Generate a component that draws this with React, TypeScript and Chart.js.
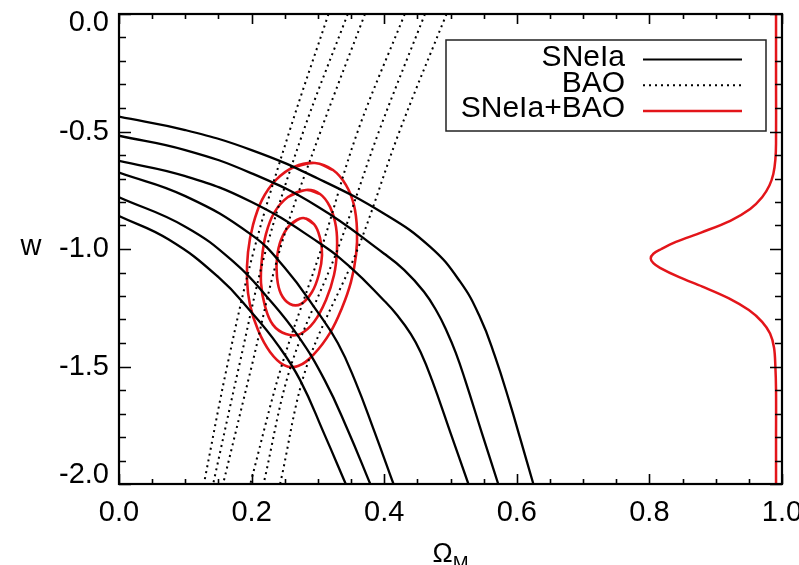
import React, { useEffect, useRef } from "react";
import { Chart, registerables } from "chart.js";

Chart.register(...registerables);

const FONT = "'Liberation Sans', Arial, Helvetica, sans-serif";

// Axis ranges and tick steps
const X_RANGE = [0, 1];
const Y_RANGE = [-2, 0];
const X_LABEL_STEP = 0.2;
const Y_LABEL_STEP = 0.5;
const X_MINOR_STEP = 0.05;
const Y_MINOR_STEP = 0.1;

// SNeIa confidence contours: [Omega_M, w]
const SN_1 = [[0, -0.437], [0.1, -0.494], [0.2, -0.579], [0.3, -0.7], [0.4, -0.85], [0.469, -0.99], [0.514, -1.137], [0.5445, -1.29], [0.567, -1.456], [0.59, -1.66], [0.605, -1.805], [0.625, -2.0]];
const SN_2 = [[0, -0.518], [0.1, -0.579], [0.2, -0.678], [0.3, -0.82], [0.4, -1.02], [0.43, -1.089], [0.46, -1.182], [0.48, -1.269], [0.494, -1.348], [0.508, -1.442], [0.522, -1.557], [0.547, -1.78], [0.572, -2.0]];
const SN_3 = [[0, -0.625], [0.1, -0.69], [0.2, -0.8], [0.3, -0.97], [0.35, -1.08], [0.4, -1.22], [0.42, -1.283], [0.44, -1.361], [0.455, -1.439], [0.472, -1.557], [0.5, -1.782], [0.527, -2.0]];
const SN_4 = [[0, -0.675], [0.1, -0.775], [0.2, -0.94], [0.25, -1.08], [0.3, -1.27], [0.33, -1.4], [0.356, -1.56], [0.385, -1.775], [0.414, -2.0]];
const SN_5 = [[0, -0.78], [0.1, -0.905], [0.175, -1.06], [0.225, -1.21], [0.27, -1.37], [0.31, -1.557], [0.345, -1.77], [0.379, -2.0]];
const SN_6 = [[0, -0.86], [0.075, -0.96], [0.15, -1.12], [0.2, -1.27], [0.24, -1.41], [0.273, -1.557], [0.31, -1.79], [0.342, -2.0]];

// BAO confidence contours: [Omega_M, w]
const BAO_1 = [[0.316, 0], [0.257, -0.5], [0.204, -1.0], [0.163, -1.5], [0.128, -2.0]];
const BAO_2 = [[0.345, 0], [0.278, -0.5], [0.222, -1.0], [0.181, -1.5], [0.142, -2.0]];
const BAO_3 = [[0.371, 0], [0.304, -0.5], [0.243, -1.0], [0.2, -1.5], [0.157, -2.0]];
const BAO_4 = [[0.431, 0], [0.36, -0.5], [0.305, -1.0], [0.245, -1.5], [0.198, -2.0]];
const BAO_5 = [[0.4615, 0], [0.392, -0.5], [0.33, -1.0], [0.259, -1.5], [0.218, -2.0]];
const BAO_6 = [[0.494, 0], [0.423, -0.5], [0.36, -1.0], [0.283, -1.5], [0.243, -2.0]];

// SNeIa+BAO joint contours (closed loops): [Omega_M, w]
const JOINT_3SIG = [[0.2956, -0.634], [0.3228, -0.664], [0.3424, -0.728], [0.3544, -0.813], [0.359, -0.919], [0.3575, -1.026], [0.3499, -1.14], [0.3363, -1.251], [0.3183, -1.357], [0.2941, -1.447], [0.27, -1.498], [0.2489, -1.494], [0.2278, -1.438], [0.2097, -1.345], [0.1976, -1.238], [0.1931, -1.132], [0.1946, -1.013], [0.2021, -0.898], [0.2157, -0.791], [0.2368, -0.706], [0.264, -0.651]];
const JOINT_2SIG = [[0.2821, -0.749], [0.3032, -0.766], [0.3183, -0.821], [0.3273, -0.906], [0.3288, -1.004], [0.3243, -1.111], [0.3122, -1.217], [0.2941, -1.311], [0.273, -1.362], [0.2519, -1.362], [0.2323, -1.323], [0.2202, -1.243], [0.2142, -1.145], [0.2157, -1.038], [0.2217, -0.936], [0.2338, -0.847], [0.2549, -0.779]];
const JOINT_1SIG = [[0.2775, -0.868], [0.2941, -0.894], [0.3032, -0.953], [0.3062, -1.026], [0.3017, -1.106], [0.2911, -1.183], [0.2745, -1.234], [0.2579, -1.234], [0.2443, -1.191], [0.2383, -1.119], [0.2383, -1.038], [0.2443, -0.962], [0.2579, -0.898]];

// Marginalised w likelihood drawn along the right edge: [x, w]
const W_PDF = [[0.991, 0], [0.991, -0.3], [0.991, -0.55], [0.99, -0.62], [0.987, -0.68], [0.981, -0.73], [0.97, -0.78], [0.952, -0.83], [0.922, -0.88], [0.878, -0.93], [0.84, -0.97], [0.818, -1.0], [0.806, -1.02], [0.802, -1.04], [0.806, -1.06], [0.816, -1.08], [0.845, -1.12], [0.88, -1.16], [0.92, -1.21], [0.95, -1.26], [0.97, -1.31], [0.982, -1.36], [0.988, -1.42], [0.99, -1.5], [0.991, -1.6], [0.991, -1.8], [0.991, -2.0]];

// Legend and titles
const LEGEND_LABELS = ["SNeIa", "BAO", "SNeIa+BAO"];
const X_TITLE = "Ω";
const X_TITLE_SUB = "M";
const Y_TITLE = "w";

const BLACK = "#000000";
const RED = "#e3151a";

const toPts = (arr: number[][]) => arr.map(([x, y]) => ({ x, y }));
// closed loop: wrap around so the joint is smoothed too
const loopPts = (arr: number[][]) => {
  const n = arr.length;
  return toPts([arr[n - 1], ...arr, arr[0], arr[1]]);
};

const framePlugin = {
  id: "frameTicks",
  afterDatasetsDraw(chart: any) {
    const { ctx, chartArea: a, scales } = chart;
    const xs = scales.x;
    const ys = scales.y;
    ctx.save();
    ctx.strokeStyle = BLACK;
    ctx.lineWidth = 1.6;
    ctx.beginPath();
    const nx = Math.round((X_RANGE[1] - X_RANGE[0]) / X_MINOR_STEP);
    const xMajorEvery = Math.round(X_LABEL_STEP / X_MINOR_STEP);
    for (let i = 0; i <= nx; i++) {
      const px = Math.round(xs.getPixelForValue(X_RANGE[0] + i * X_MINOR_STEP)) + 0.5;
      const len = i % xMajorEvery === 0 ? 10 : 5;
      ctx.moveTo(px, a.bottom);
      ctx.lineTo(px, a.bottom - len);
      ctx.moveTo(px, a.top);
      ctx.lineTo(px, a.top + len);
    }
    const ny = Math.round((Y_RANGE[1] - Y_RANGE[0]) / Y_MINOR_STEP);
    const yMajorEvery = Math.round(Y_LABEL_STEP / Y_MINOR_STEP);
    for (let i = 0; i <= ny; i++) {
      const py = Math.round(ys.getPixelForValue(Y_RANGE[0] + i * Y_MINOR_STEP)) + 0.5;
      const len = i % yMajorEvery === 0 ? 12 : 7;
      ctx.moveTo(a.left, py);
      ctx.lineTo(a.left + len, py);
      ctx.moveTo(a.right, py);
      ctx.lineTo(a.right - len, py);
    }
    ctx.stroke();
    ctx.lineWidth = 2.2;
    ctx.strokeRect(a.left, a.top, a.right - a.left, a.bottom - a.top);
    ctx.restore();
  },
  afterDraw(chart: any) {
    const { ctx, chartArea: a } = chart;
    ctx.save();
    // legend box
    const bx = a.right - 336;
    const by = a.top + 26;
    const bw = 320;
    const bh = 91;
    ctx.strokeStyle = "#222";
    ctx.lineWidth = 1.5;
    ctx.strokeRect(bx, by, bw, bh);
    ctx.font = `30px ${FONT}`;
    ctx.textAlign = "right";
    ctx.textBaseline = "alphabetic";
    const styles = [
      { color: BLACK, dash: [] as number[], width: 2 },
      { color: BLACK, dash: [2, 4], width: 2 },
      { color: RED, dash: [] as number[], width: 2.5 },
    ];
    LEGEND_LABELS.forEach((lab, i) => {
      const base = by + 26 + i * 25.7;
      ctx.fillStyle = BLACK;
      ctx.fillText(lab, bx + 179, base);
      const ly = by + 19.5 + i * 25.7;
      ctx.beginPath();
      ctx.strokeStyle = styles[i].color;
      ctx.lineWidth = styles[i].width;
      ctx.setLineDash(styles[i].dash);
      ctx.moveTo(bx + 197, ly);
      ctx.lineTo(bx + 296, ly);
      ctx.stroke();
    });
    ctx.setLineDash([]);
    // axis titles
    ctx.fillStyle = BLACK;
    ctx.textAlign = "center";
    ctx.textBaseline = "middle";
    ctx.font = `29px ${FONT}`;
    ctx.fillText(Y_TITLE, a.left - 88, (a.top + a.bottom) / 2 - 2);
    ctx.textBaseline = "alphabetic";
    ctx.textAlign = "left";
    const cx = (a.left + a.right) / 2;
    ctx.font = `27px ${FONT}`;
    const wO = ctx.measureText(X_TITLE).width;
    ctx.font = `19px ${FONT}`;
    const wM = ctx.measureText(X_TITLE_SUB).width;
    const start = cx - (wO + wM) / 2;
    ctx.font = `27px ${FONT}`;
    ctx.fillText(X_TITLE, start, a.bottom + 78);
    ctx.font = `19px ${FONT}`;
    ctx.fillText(X_TITLE_SUB, start + wO, a.bottom + 85);
    ctx.restore();
  },
};

export default function App() {
  const ref = useRef<HTMLCanvasElement | null>(null);
  useEffect(() => {
    if (!ref.current) return;
    const line = (pts: any[], color: string, width: number, extra: any = {}) => ({
      data: pts,
      showLine: true,
      borderColor: color,
      borderWidth: width,
      pointRadius: 0,
      pointHoverRadius: 0,
      fill: false,
      borderCapStyle: "round",
      borderJoinStyle: "round",
      ...extra,
    });
    const datasets = [
      ...[SN_1, SN_2, SN_3, SN_4, SN_5, SN_6].map((d) => line(toPts(d), BLACK, 2.3, { tension: 0.45 })),
      ...[BAO_1, BAO_2, BAO_3, BAO_4, BAO_5, BAO_6].map((d) =>
        line(toPts(d), BLACK, 2, { borderDash: [2, 4], borderCapStyle: "butt", tension: 0.35 })
      ),
      ...[JOINT_3SIG, JOINT_2SIG, JOINT_1SIG].map((d) => line(loopPts(d), RED, 2.6, { tension: 0.4 })),
      line(toPts(W_PDF), RED, 2.5, { tension: 0.35 }),
    ];
    const edgeLH = (v: number) => v === Y_RANGE[0] || v === Y_RANGE[1];
    const chart = new Chart(ref.current, {
      type: "scatter",
      data: { datasets: datasets as any },
      plugins: [framePlugin],
      options: {
        animation: false,
        responsive: false,
        maintainAspectRatio: false,
        layout: { padding: { left: 0, right: 17, top: 14, bottom: 0 } },
        plugins: { legend: { display: false }, tooltip: { enabled: false } },
        events: [],
        scales: {
          x: {
            type: "linear",
            min: X_RANGE[0],
            max: X_RANGE[1],
            border: { display: false },
            grid: { drawOnChartArea: false, drawTicks: false },
            ticks: {
              stepSize: X_LABEL_STEP,
              padding: 12,
              color: BLACK,
              maxRotation: 0,
              font: { family: FONT, size: 29 },
              callback: (v: any) => Number(v).toFixed(1),
            },
            afterFit: (s: any) => {
              s.height = 81;
              s.paddingLeft = 0;
              s.paddingRight = 0;
            },
          },
          y: {
            type: "linear",
            min: Y_RANGE[0],
            max: Y_RANGE[1],
            border: { display: false },
            grid: { drawOnChartArea: false, drawTicks: false },
            ticks: {
              stepSize: Y_LABEL_STEP,
              padding: 10,
              color: BLACK,
              font: (c: any) => ({
                family: FONT,
                size: 29,
                lineHeight: c.tick && edgeLH(c.tick.value) ? 17.5 / 29 : 1.2,
              }),
              callback: (v: any) => {
                const n = Number(v);
                const s = n.toFixed(1);
                if (n === Y_RANGE[1]) return ["", s];
                if (n === Y_RANGE[0]) return [s, ""];
                return s;
              },
            },
            afterFit: (s: any) => {
              s.width = 119;
              s.paddingTop = 0;
              s.paddingBottom = 0;
            },
          },
        },
      } as any,
    });
    return () => chart.destroy();
  }, []);
  return (
    <div style={{ position: "fixed", left: 0, top: 0, width: 799, height: 565, background: "#fff" }}>
      <canvas ref={ref} width={799} height={565} style={{ width: 799, height: 565, display: "block" }} />
    </div>
  );
}
